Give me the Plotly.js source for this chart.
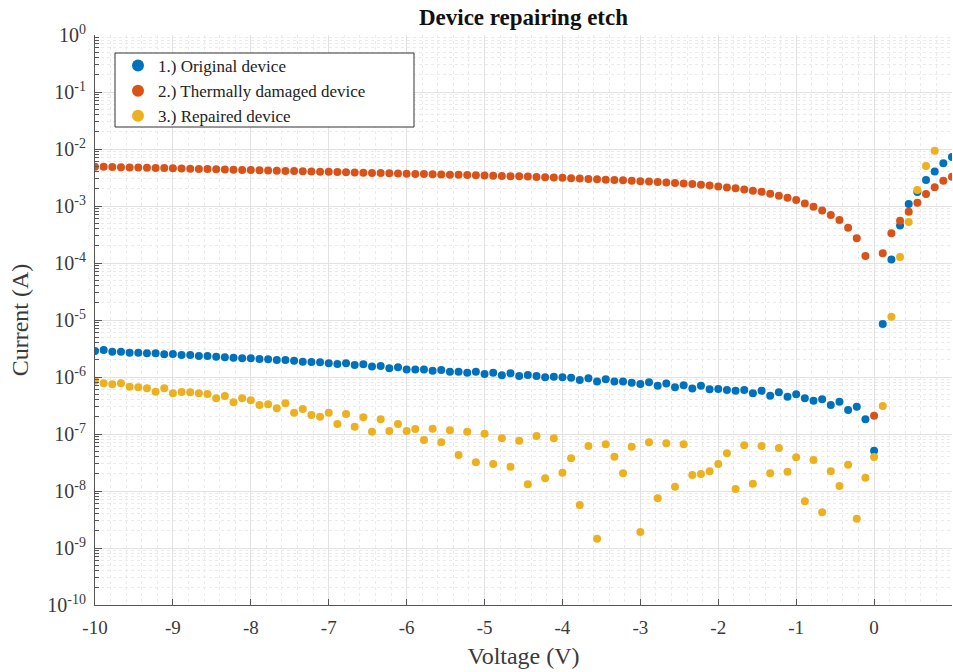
<!DOCTYPE html>
<html>
<head>
<meta charset="utf-8">
<script src="https://cdn.plot.ly/plotly-3.0.1.min.js"></script>
<style>
  html, body { margin: 0; padding: 0; background: #ffffff; }
  #chart { width: 953px; height: 672px; }
</style>
</head>
<body>
<div id="chart"></div>
<script>
// Voltage sweep points (V)
const voltage = [
  -10, -9.8889, -9.7778, -9.6667, -9.5556, -9.4444, -9.3333, -9.2222, -9.1111,
  -9, -8.8889, -8.7778, -8.6667, -8.5556, -8.4444, -8.3333, -8.2222, -8.1111,
  -8, -7.8889, -7.7778, -7.6667, -7.5556, -7.4444, -7.3333, -7.2222, -7.1111,
  -7, -6.8889, -6.7778, -6.6667, -6.5556, -6.4444, -6.3333, -6.2222, -6.1111,
  -6, -5.8889, -5.7778, -5.6667, -5.5556, -5.4444, -5.3333, -5.2222, -5.1111,
  -5, -4.8889, -4.7778, -4.6667, -4.5556, -4.4444, -4.3333, -4.2222, -4.1111,
  -4, -3.8889, -3.7778, -3.6667, -3.5556, -3.4444, -3.3333, -3.2222, -3.1111,
  -3, -2.8889, -2.7778, -2.6667, -2.5556, -2.4444, -2.3333, -2.2222, -2.1111,
  -2, -1.8889, -1.7778, -1.6667, -1.5556, -1.4444, -1.3333, -1.2222, -1.1111,
  -1, -0.8889, -0.7778, -0.6667, -0.5556, -0.4444, -0.3333, -0.2222, -0.1111,
  0, 0.1111, 0.2222, 0.3333, 0.4444, 0.5556, 0.6667, 0.7778, 0.8889, 1
];

// 1.) Original device current (A)
const originalCurrent = [
  2.86e-6, 2.98e-6, 2.78e-6, 2.78e-6, 2.67e-6, 2.67e-6, 2.61e-6, 2.61e-6, 2.50e-6,
  2.53e-6, 2.43e-6, 2.43e-6, 2.34e-6, 2.34e-6, 2.27e-6, 2.22e-6, 2.18e-6, 2.13e-6,
  2.13e-6, 2.07e-6, 2.05e-6, 1.99e-6, 1.99e-6, 1.93e-6, 1.85e-6, 1.83e-6, 1.81e-6,
  1.74e-6, 1.69e-6, 1.74e-6, 1.62e-6, 1.67e-6, 1.53e-6, 1.56e-6, 1.42e-6, 1.48e-6,
  1.36e-6, 1.36e-6, 1.36e-6, 1.29e-6, 1.33e-6, 1.24e-6, 1.24e-6, 1.19e-6, 1.24e-6,
  1.13e-6, 1.19e-6, 1.07e-6, 1.16e-6, 1.04e-6, 1.08e-6, 1.04e-6, 9.9e-7, 1.01e-6,
  9.9e-7, 9.7e-7, 8.9e-7, 9.5e-7, 8.3e-7, 9.1e-7, 8.3e-7, 8.3e-7, 7.9e-7,
  7.5e-7, 8.1e-7, 7.0e-7, 7.7e-7, 6.6e-7, 7.2e-7, 6.3e-7, 7.0e-7, 6.1e-7,
  6.15e-7, 5.9e-7, 5.75e-7, 5.9e-7, 5.2e-7, 5.75e-7, 4.7e-7, 5.4e-7, 4.5e-7,
  4.97e-7, 4.23e-7, 3.84e-7, 4.06e-7, 3.23e-7, 3.69e-7, 2.64e-7, 3.01e-7, 1.81e-7,
  5.1e-8, 8.5e-6, 1.15e-4, 4.55e-4, 1.08e-3, 1.76e-3, 2.86e-3, 4.03e-3, 5.61e-3, 7.24e-3
];

// 2.) Thermally damaged device current (A)
const damagedCurrent = [
  4.90e-3, 4.87e-3, 4.83e-3, 4.80e-3, 4.76e-3, 4.72e-3, 4.69e-3, 4.65e-3, 4.62e-3,
  4.58e-3, 4.55e-3, 4.51e-3, 4.48e-3, 4.44e-3, 4.41e-3, 4.37e-3, 4.34e-3, 4.30e-3,
  4.27e-3, 4.23e-3, 4.20e-3, 4.17e-3, 4.13e-3, 4.10e-3, 4.07e-3, 4.03e-3, 4.00e-3,
  3.97e-3, 3.93e-3, 3.90e-3, 3.87e-3, 3.84e-3, 3.81e-3, 3.78e-3, 3.75e-3, 3.72e-3,
  3.69e-3, 3.66e-3, 3.63e-3, 3.61e-3, 3.58e-3, 3.55e-3, 3.52e-3, 3.49e-3, 3.46e-3,
  3.43e-3, 3.40e-3, 3.37e-3, 3.34e-3, 3.31e-3, 3.28e-3, 3.24e-3, 3.20e-3, 3.16e-3,
  3.12e-3, 3.07e-3, 3.03e-3, 2.98e-3, 2.94e-3, 2.90e-3, 2.86e-3, 2.82e-3, 2.78e-3,
  2.73e-3, 2.69e-3, 2.64e-3, 2.59e-3, 2.54e-3, 2.48e-3, 2.42e-3, 2.35e-3, 2.28e-3,
  2.20e-3, 2.12e-3, 2.04e-3, 1.95e-3, 1.86e-3, 1.78e-3, 1.64e-3, 1.52e-3, 1.40e-3,
  1.27e-3, 1.11e-3, 9.7e-4, 8.3e-4, 6.95e-4, 5.68e-4, 4.16e-4, 2.71e-4, 1.33e-4,
  2.1e-7, 1.48e-4, 3.32e-4, 5.52e-4, 7.94e-4, 1.14e-3, 1.62e-3, 2.13e-3, 2.78e-3, 3.27e-3
];

// 3.) Repaired device current (A)
const repairedCurrent = [
  8.61e-7, 7.75e-7, 7.44e-7, 7.75e-7, 6.76e-7, 6.59e-7, 6.33e-7, 5.52e-7, 6.33e-7,
  5.18e-7, 5.45e-7, 5.39e-7, 5.18e-7, 5.04e-7, 4.23e-7, 4.65e-7, 3.60e-7, 4.23e-7,
  3.90e-7, 3.23e-7, 3.32e-7, 2.82e-7, 3.46e-7, 2.36e-7, 2.75e-7, 2.16e-7, 2.01e-7,
  2.36e-7, 1.50e-7, 2.25e-7, 1.34e-7, 1.96e-7, 1.10e-7, 1.81e-7, 1.13e-7, 1.50e-7,
  1.13e-7, 1.22e-7, 7.85e-8, 1.24e-7, 7.15e-8, 1.16e-7, 4.28e-8, 1.10e-7, 3.19e-8,
  1.01e-7, 2.98e-8, 8.41e-8, 2.67e-8, 7.63e-8, 1.31e-8, 9.22e-8, 1.67e-8, 8.41e-8,
  2.09e-8, 3.75e-8, 5.68e-9, 6.15e-8, 1.46e-9, 6.59e-8, 4.0e-8, 2.05e-8, 5.98e-8,
  1.91e-9, 7.15e-8, 7.45e-9, 6.87e-8, 1.19e-8, 6.59e-8, 1.91e-8, 1.99e-8, 2.22e-8,
  2.98e-8, 4.58e-8, 1.08e-8, 6.34e-8, 1.34e-8, 6.15e-8, 2.05e-8, 5.68e-8, 2.18e-8,
  3.90e-8, 6.59e-9, 3.50e-8, 4.23e-9, 2.22e-8, 1.22e-8, 2.89e-8, 3.27e-9, 1.71e-8,
  3.95e-8, 3.10e-7, 1.14e-5, 1.27e-4, 5.24e-4, 1.91e-3, 5.04e-3, 9.33e-3, null, null
];

const seriesNames = ['1.) Original device', '2.) Thermally damaged device', '3.) Repaired device'];
const seriesColors = ['#0072BD', '#D95319', '#EDB120'];

// Tick labels
const xTickVals = [-10, -9, -8, -7, -6, -5, -4, -3, -2, -1, 0, 1];
const xTickText = ['-10', '-9', '-8', '-7', '-6', '-5', '-4', '-3', '-2', '-1', '0', '1'];
const yTickVals = [1e-10, 1e-9, 1e-8, 1e-7, 1e-6, 1e-5, 1e-4, 1e-3, 1e-2, 1e-1, 1];
const yTickText = ['10<sup>-10</sup>', '10<sup>-9</sup>', '10<sup>-8</sup>', '10<sup>-7</sup>',
  '10<sup>-6</sup>', '10<sup>-5</sup>', '10<sup>-4</sup>', '10<sup>-3</sup>',
  '10<sup>-2</sup>', '10<sup>-1</sup>', '10<sup>0</sup>'];

// minor log tick positions (2..9 per decade)
const yMinor = [];
for (let d = -10; d < 0; d++) {
  for (let k = 2; k <= 9; k++) yMinor.push(k * Math.pow(10, d));
}

const seriesData = [originalCurrent, damagedCurrent, repairedCurrent];
const traces = seriesData.map((ys, idx) => ({
  type: 'scatter',
  mode: 'markers',
  x: voltage,
  y: ys,
  name: seriesNames[idx],
  marker: { color: seriesColors[idx], size: 8, line: { width: 0 } }
}));

const serif = 'Liberation Serif, Times New Roman, serif';

// plot-area pixel helpers for placing the legend frame (paper coordinates)
const plotL = 95, plotW = 857, plotB = 605, plotH = 570;
const px = (p) => (p - plotL) / plotW;
const py = (p) => (plotB - p) / plotH;

const layout = {
  width: 953,
  height: 672,
  margin: { l: 95, r: 1, t: 35, b: 67 },
  paper_bgcolor: '#ffffff',
  plot_bgcolor: '#ffffff',
  showlegend: true,
  title: {
    text: '<b>Device repairing etch</b>',
    font: { family: serif, size: 23, color: '#111111' },
    x: 0.5, xref: 'paper', xanchor: 'center',
    y: 1 - 17 / 672, yref: 'container', yanchor: 'middle'
  },
  xaxis: {
    type: 'linear',
    range: [-10, 1],
    tickmode: 'array',
    tickvals: xTickVals,
    ticktext: xTickText,
    ticks: 'inside',
    ticklen: 6,
    tickcolor: '#555555',
    tickfont: { family: serif, size: 19, color: '#3a3a3a' },
    ticklabelstandoff: 5,
    showline: true,
    linecolor: '#555555',
    linewidth: 1,
    showgrid: true,
    gridcolor: '#e2e2e2',
    gridwidth: 1,
    zeroline: false,
    minor: { dtick: 0.2, tick0: 0, showgrid: true, gridcolor: '#ebebeb', griddash: 'dot', ticks: '' },
    title: { text: 'Voltage (V)', font: { family: serif, size: 24, color: '#3a3a3a' }, standoff: 10 },
    fixedrange: true
  },
  yaxis: {
    type: 'log',
    range: [-10, 0],
    tickmode: 'array',
    tickvals: yTickVals,
    ticktext: yTickText,
    ticks: 'inside',
    ticklen: 7,
    tickcolor: '#555555',
    tickfont: { family: serif, size: 20, color: '#3a3a3a' },
    ticklabelstandoff: 4,
    showline: true,
    linecolor: '#555555',
    linewidth: 1,
    showgrid: true,
    gridcolor: '#e2e2e2',
    gridwidth: 1,
    zeroline: false,
    minor: { tickmode: 'array', tickvals: yMinor, ticks: 'inside', ticklen: 4, tickcolor: '#555555',
             showgrid: true, gridcolor: '#ebebeb', griddash: 'dot' },
    title: { text: 'Current (A)', font: { family: serif, size: 24, color: '#3a3a3a' }, standoff: 11 },
    fixedrange: true
  },
  shapes: [{
    type: 'rect', xref: 'paper', yref: 'paper', layer: 'above',
    x0: px(115), x1: px(414), y0: py(127), y1: py(53),
    line: { color: '#333333', width: 1 },
    fillcolor: '#ffffff'
  }],
  legend: {
    x: px(118),
    y: py(48),
    xanchor: 'left',
    yanchor: 'top',
    bgcolor: 'rgba(0,0,0,0)',
    borderwidth: 0,
    font: { family: serif, size: 17, color: '#222222' },
    itemsizing: 'constant'
  }
};

Plotly.newPlot('chart', traces, layout, { displayModeBar: false, staticPlot: true });
</script>
</body>
</html>
